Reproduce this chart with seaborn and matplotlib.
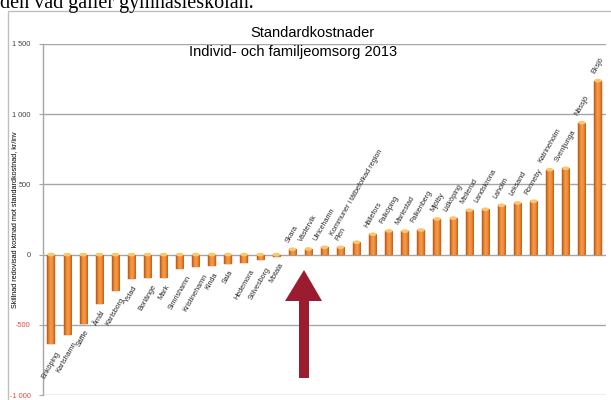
import numpy as np
import pandas as pd
import matplotlib.pyplot as plt
import matplotlib.patches as mpatches
import seaborn as sns
from matplotlib.colors import LinearSegmentedColormap

# Data
kommuner = ['Enköping', 'Karlshamn', 'Säffle', 'Åmål', 'Karlsborg', 'Ystad',
            'Borlänge', 'Mark', 'Simrishamn', 'Kristinehamn', 'Kinda', 'Sala',
            'Hedemora', 'Sölvesborg', 'Motala', 'Skara', 'Västervik', 'Ulricehamn',
            'Flen', 'Kommuner i tätbefolkad region', 'Hällefors', 'Falköping',
            'Mariestad', 'Falkenberg', 'Mjölby', 'Lidköping', 'Mellerud',
            'Landskrona', 'Laholm', 'Leksand', 'Ronneby', 'Katrineholm',
            'Svenljunga', 'Nässjö', 'Eksjö']
skillnad = [-640, -570, -491, -349, -261, -176, -164, -164, -100, -90, -78, -66,
            -57, -40, -14, 38, 40, 52, 52, 88, 145, 169, 167, 175, 254, 260, 316,
            323, 351, 368, 380, 605, 615, 940, 1239]
ytick_values = [-1000, -500, 0, 500, 1000, 1500]
ytick_labels = ['-1 000', '-500', '0', '500', '1 000', '1 500']

sns.set_style('white')
plt.rcParams['font.family'] = ['Liberation Sans', 'DejaVu Sans']

fig = plt.figure(figsize=(6.11, 4.0), dpi=100)
ax = fig.add_axes([43 / 611, 5 / 400, 563 / 611, 351 / 400])

df = pd.DataFrame({'kommun': kommuner, 'skillnad': skillnad})
sns.barplot(data=df, x='kommun', y='skillnad', color='#F28A30', saturation=1,
            width=0.45, errorbar=None, ax=ax, zorder=3)

# cylinder-like shading on each bar
grad = LinearSegmentedColormap.from_list(
    'bar', ['#B45614', '#EC8430', '#F79E4C', '#EE8632', '#BF5E18'])
img = np.linspace(0, 1, 64).reshape(1, -1)
for p in list(ax.patches):
    x0, y0 = p.get_x(), p.get_y()
    w, h = p.get_width(), p.get_height()
    p.set_edgecolor('#B05516')
    p.set_linewidth(0.3)
    im = ax.imshow(img, cmap=grad, extent=[x0, x0 + w, y0, y0 + h],
                   aspect='auto', zorder=3.5, interpolation='bilinear')
    im.set_clip_path(p)
    top = max(y0, y0 + h)
    ax.add_patch(mpatches.Ellipse((x0 + w / 2, top), w * 0.8, 16,
                                  color='#FBC66E', zorder=4))

# category labels at the bar ends
for i, (name, val) in enumerate(zip(kommuner, skillnad)):
    if val >= 0:
        ax.annotate(name, (i, val), xytext=(0, 4), textcoords='offset points',
                    rotation=60, ha='center', va='bottom', fontsize=5.2,
                    color='#2a2a2a', zorder=5)
    else:
        ax.annotate(name, (i, val), xytext=(0, -4), textcoords='offset points',
                    rotation=60, ha='center', va='top', fontsize=5.2,
                    color='#2a2a2a', zorder=5)

ax.set_xlim(-0.5, len(kommuner) - 0.5)
ax.set_ylim(-1000, 1500)
ax.set_yticks(ytick_values)
ax.set_yticklabels(ytick_labels)
for lbl, v in zip(ax.get_yticklabels(), ytick_values):
    lbl.set_color('#F04848' if v < 0 else '#404040')
    lbl.set_fontsize(5.3)
ax.tick_params(axis='y', length=3, width=0.8, color='#A6A6A6', pad=6, left=True)
ax.set_xticks([])
ax.set_xlabel('')
ax.set_ylabel('')
ax.yaxis.grid(True, color='#A6A6A6', linewidth=1)
ax.set_axisbelow(True)
for side in ['top', 'right', 'bottom']:
    ax.spines[side].set_visible(False)
ax.spines['left'].set_color('#A6A6A6')
ax.spines['left'].set_linewidth(1)
ax.patch.set_alpha(0)

# axis label and titles
fig.text(15 / 611, 0.45, 'Skillnad redovisad kostnad mot standardkostnad, kr/inv',
         rotation=90, ha='center', va='center', fontsize=5.2, color='black')
fig.text(312 / 611, 1 - 33 / 400, 'Standardkostnader', ha='center', va='center',
         fontsize=10.5, color='black')
fig.text(293 / 611, 1 - 52 / 400, 'Individ- och familjeomsorg 2013', ha='center',
         va='center', fontsize=10.5, color='black')

# surrounding document text (cut at the top, as in the page) and chart border
fig.text(0.0, 1 - 8 / 400, 'den vad gäller gymnasieskolan.', ha='left',
         va='baseline', fontsize=14.5, family='Liberation Serif', color='black')
fig.patches.append(mpatches.Rectangle((8 / 611, -0.01), 1.0, 1 - 11 / 400 + 0.01,
                                      transform=fig.transFigure, fill=False,
                                      edgecolor='#BFBFBF', linewidth=1))

# red arrow pointing at the break between negative and positive bars
arrow_px = [(304, 270), (322, 301), (309, 301), (309, 378), (299, 378),
            (299, 301), (285, 301)]
fig.patches.append(mpatches.Polygon([(x / 611, 1 - y / 400) for x, y in arrow_px],
                                    closed=True, transform=fig.transFigure,
                                    facecolor='#9B1C31', edgecolor='none'))

fig.savefig('out.png', dpi=100)
